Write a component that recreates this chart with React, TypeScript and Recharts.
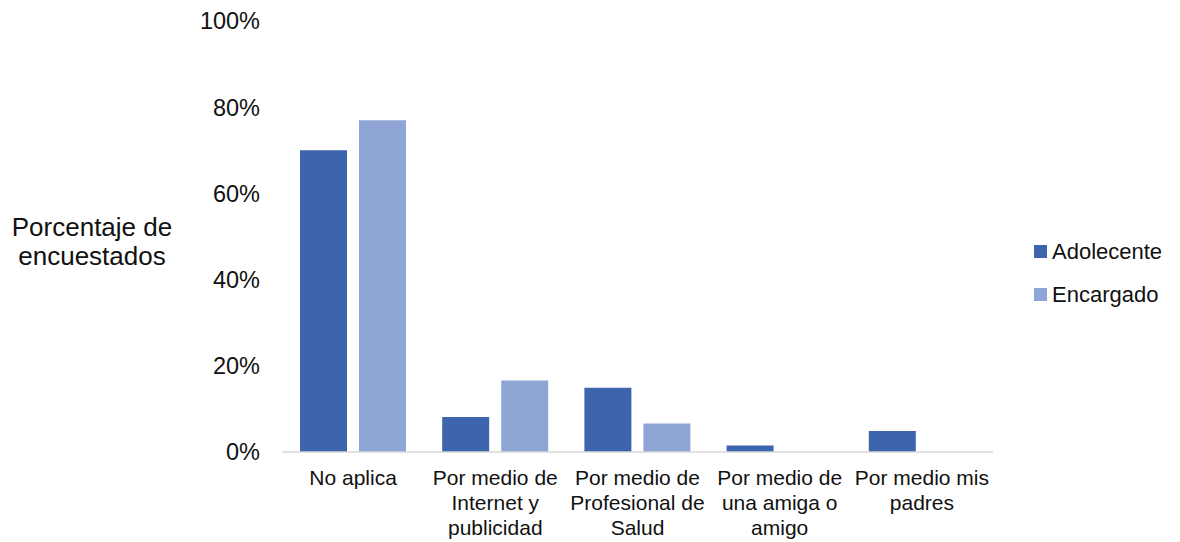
import React from 'react';
import { BarChart, Bar, XAxis, YAxis } from 'recharts';

const categories = [
    'No aplica',
    'Por medio de\nInternet y\npublicidad',
    'Por medio de\nProfesional de\nSalud',
    'Por medio de\nuna amiga o\namigo',
    'Por medio mis\npadres',
];
const adolecente = [70, 8.1, 14.9, 1.5, 4.9];
const encargado = [77, 16.6, 6.6, 0, 0];
const yTicks = [0, 20, 40, 60, 80, 100];

const COLOR_ADOL = '#3D64AD';
const COLOR_ENC = '#8FA5D6';
const FONT = '"Liberation Sans", Arial, sans-serif';

const data = categories.map((name, i) => ({
    name,
    adolecente: adolecente[i],
    encargado: encargado[i],
}));

const legendItems = [
    { label: 'Adolecente', color: COLOR_ADOL },
    { label: 'Encargado', color: COLOR_ENC },
];

const CategoryTick = (props: any) => {
    const { x, y, payload } = props;
    const lines = String(payload.value).split('\n');
    return (
        <text x={x} y={y} textAnchor="middle" fill="#111" fontSize={21} fontFamily={FONT}>
            {lines.map((line, i) => (
                <tspan key={i} x={x} dy={i === 0 ? 25 : 25}>{line}</tspan>
            ))}
        </text>
    );
};

const AxisTitle = () => (
    <text x={92} y={0} textAnchor="middle" fill="#111" fontSize={26} fontFamily={FONT}>
        <tspan x={92} y={236}>Porcentaje de</tspan>
        <tspan x={92} y={265}>encuestados</tspan>
    </text>
);

export default function App() {
    return (
        <div style={{ position: 'absolute', left: 0, top: 0, width: 1180, height: 542, background: '#fff' }}>
            <BarChart
                width={1180}
                height={542}
                data={data}
                margin={{ top: 21, right: 187, left: 0, bottom: 60 }}
                barGap={12}
            >
                <XAxis
                    dataKey="name"
                    interval={0}
                    tickLine={false}
                    axisLine={{ stroke: '#D9D9D9', strokeWidth: 1.5 }}
                    tick={<CategoryTick />}
                />
                <YAxis
                    width={282}
                    domain={[0, 100]}
                    ticks={yTicks}
                    axisLine={false}
                    tickLine={false}
                    tickSize={0}
                    tickMargin={22}
                    tickFormatter={(v) => `${v}%`}
                    tick={{ fontSize: 23.5, fill: '#111', fontFamily: FONT }}
                    label={<AxisTitle />}
                />
                <Bar dataKey="adolecente" name="Adolecente" fill={COLOR_ADOL} barSize={47} isAnimationActive={false} />
                <Bar dataKey="encargado" name="Encargado" fill={COLOR_ENC} barSize={47} isAnimationActive={false} />
            </BarChart>
            <div style={{ position: 'absolute', left: 1034, top: 230, fontFamily: FONT, fontSize: 22, color: '#111' }}>
                {legendItems.map((item) => (
                    <div key={item.label} style={{ display: 'flex', alignItems: 'center', height: 43 }}>
                        <span style={{ width: 13, height: 13, background: item.color, marginRight: 5, display: 'inline-block' }} />
                        <span>{item.label}</span>
                    </div>
                ))}
            </div>
        </div>
    );
}
